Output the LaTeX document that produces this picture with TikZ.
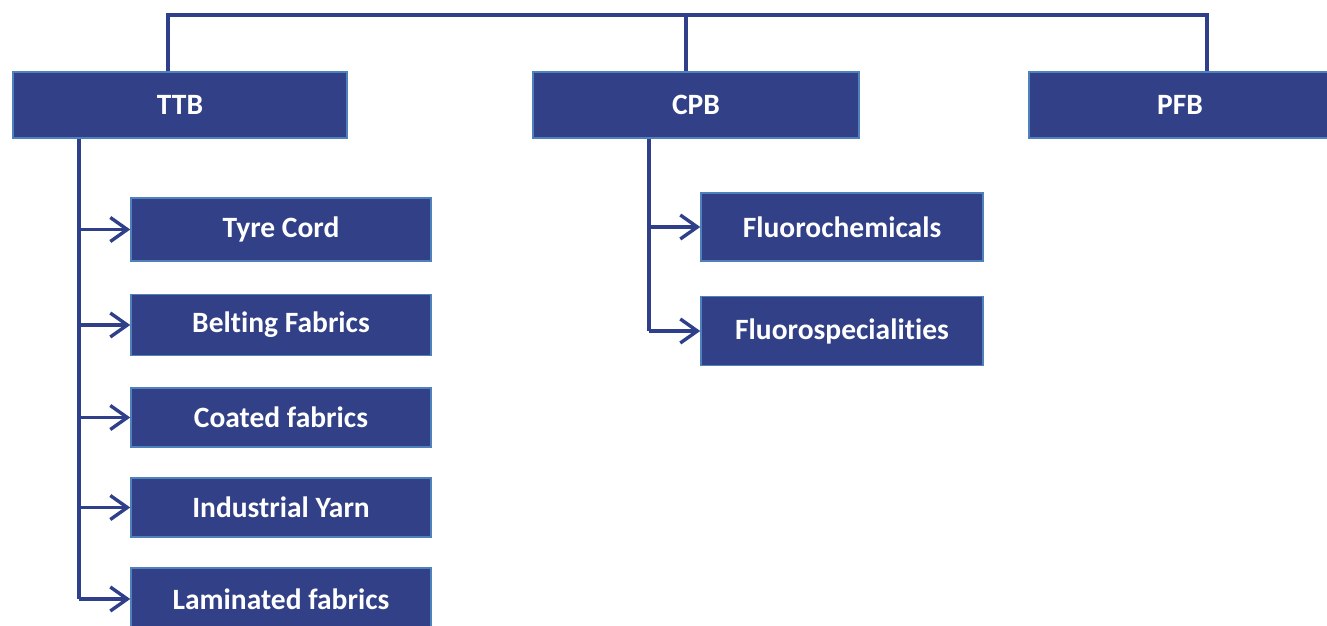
\documentclass[tikz,border=0pt]{standalone}
\usepackage{fontspec}
\setmainfont{Carlito}[Ligatures=NoCommon]
\usetikzlibrary{arrows.meta}
\definecolor{boxfill}{RGB}{49,64,135}
\definecolor{boxedge}{RGB}{79,129,189}
\definecolor{linecol}{RGB}{47,63,138}
\tikzset{
  orgbox/.style={rectangle, fill=boxfill, draw=boxedge, line width=1.5pt, text=white,
    font=\bfseries\fontsize{29.5}{33}\selectfont, inner sep=0pt},
  conn/.style={draw=linecol, line width=3.2pt, line join=miter},
  arr/.style={conn, -{Straight Barb[length=17pt,width=24pt,line width=3.4pt]}}
}
\begin{document}
\begin{tikzpicture}[x=1pt,y=-1pt]
\useasboundingbox (0,0) rectangle (1327,626);
% top-level
\node[orgbox, minimum width=334pt, minimum height=66pt] (TTB) at (180,105) {TTB};
\node[orgbox, minimum width=326pt, minimum height=66pt] (CPB) at (696,105) {CPB};
\node[orgbox, minimum width=302pt, minimum height=66pt] (PFB) at (1180,105) {PFB};
% TTB children
\node[orgbox, minimum width=300pt, minimum height=63pt] (Tyre) at (281,229.5) {Tyre Cord};
\node[orgbox, minimum width=300pt, minimum height=61pt] (Belt) at (281,325) {Belting Fabrics};
\node[orgbox, minimum width=300pt, minimum height=59pt] (Coat) at (281,417.5) {Coated fabrics};
\node[orgbox, minimum width=300pt, minimum height=59pt] (Ind) at (281,507.5) {Industrial Yarn};
\node[orgbox, minimum width=300pt, minimum height=62pt] (Lam) at (281,599) {Laminated fabrics};
% CPB children
\node[orgbox, minimum width=282pt, minimum height=68pt] (FC) at (842,227) {Fluorochemicals};
\node[orgbox, minimum width=282pt, minimum height=69pt] (FS) at (842,331) {Fluorospecialities};
% bus
\coordinate (busL) at (168,15);
\coordinate (busR) at (1207,15);
\draw[conn] (TTB.north -| busL) -- (busL) -- (busR) -- (PFB.north -| busR);
\draw[conn] (CPB.north -| 686,0) -- (686,15);
% TTB spine
\coordinate (ttbspine) at (79,599);
\draw[conn] (TTB.south -| ttbspine) -- (ttbspine);
\draw[arr] (Tyre.west -| ttbspine) -- (Tyre.west);
\draw[arr] (Belt.west -| ttbspine) -- (Belt.west);
\draw[arr] (Coat.west -| ttbspine) -- (Coat.west);
\draw[arr] (Ind.west -| ttbspine) -- (Ind.west);
\draw[arr] (ttbspine) -- (Lam.west);
% CPB spine
\coordinate (cpbspine) at (649,331);
\draw[conn] (CPB.south -| cpbspine) -- (cpbspine);
\draw[arr] (FC.west -| cpbspine) -- (FC.west);
\draw[arr] (cpbspine) -- (FS.west);
\end{tikzpicture}
\end{document}
